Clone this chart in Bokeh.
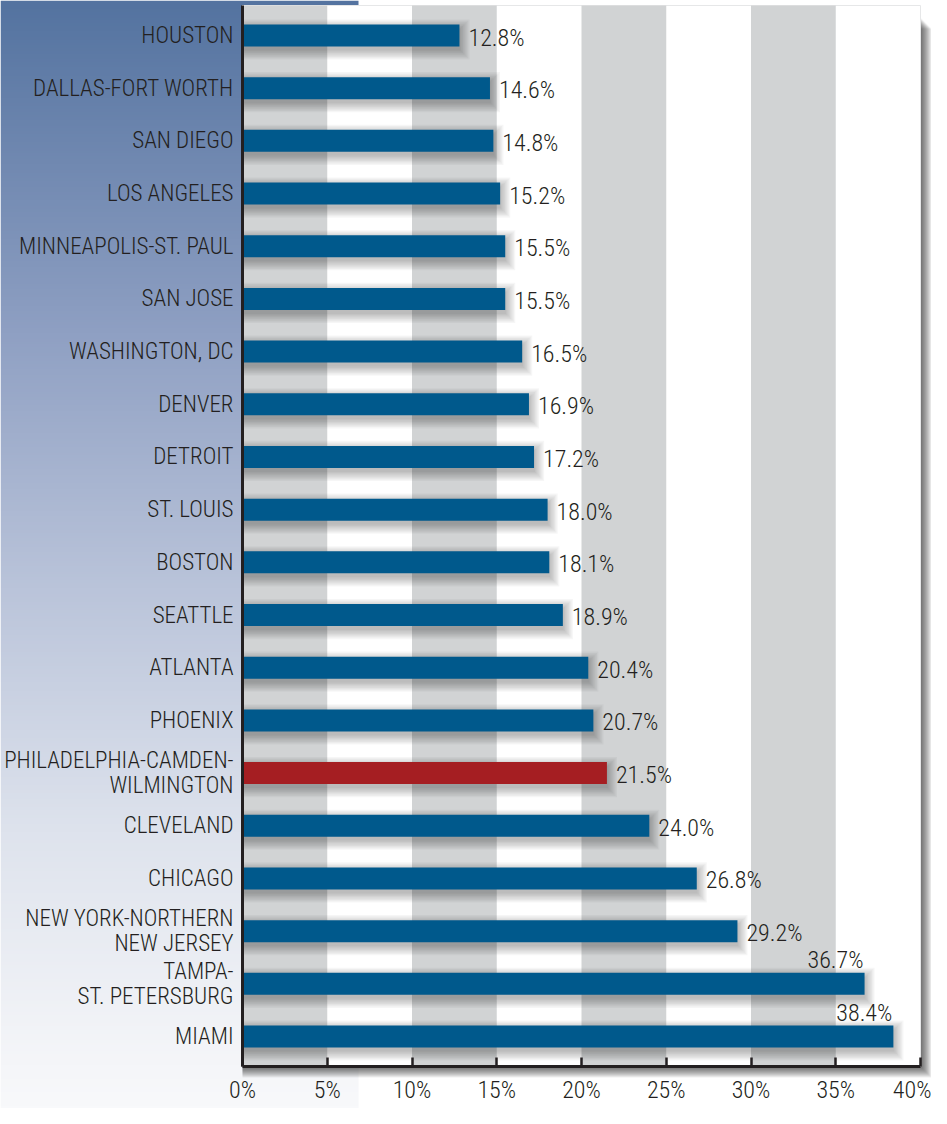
import numpy as np
from bokeh.plotting import figure
from bokeh.models import Range1d, FixedTicker, ColumnDataSource
from bokeh.core.properties import value
from bokeh.embed import file_html
from bokeh.resources import INLINE

# ---------------- data ----------------
cities = [
    "HOUSTON", "DALLAS-FORT WORTH", "SAN DIEGO", "LOS ANGELES",
    "MINNEAPOLIS-ST. PAUL", "SAN JOSE", "WASHINGTON, DC", "DENVER",
    "DETROIT", "ST. LOUIS", "BOSTON", "SEATTLE", "ATLANTA", "PHOENIX",
    "PHILADELPHIA-CAMDEN-\nWILMINGTON", "CLEVELAND", "CHICAGO",
    "NEW YORK-NORTHERN\nNEW JERSEY", "TAMPA-\nST. PETERSBURG", "MIAMI",
]
shares = [12.8, 14.6, 14.8, 15.2, 15.5, 15.5, 16.5, 16.9, 17.2, 18.0,
          18.1, 18.9, 20.4, 20.7, 21.5, 24.0, 26.8, 29.2, 36.7, 38.4]
highlight = "PHILADELPHIA-CAMDEN-\nWILMINGTON"
tick_values = [0, 5, 10, 15, 20, 25, 30, 35, 40]
tick_labels = ["0%", "5%", "10%", "15%", "20%", "25%", "30%", "35%", "40%"]

# ---------------- style / geometry (pixels) ----------------
W, H = 931, 1108
ZERO_PX = 242          # x pixel of 0 %
PX_PER_UNIT = 16.95    # pixels per percentage point
FIRST_ROW_PX = 35      # y pixel of the first bar centre
LAST_ROW_PX = 1036     # y pixel of the last bar centre
AXIS_PX = 1066         # y pixel of the x axis line
PLOT_TOP_PX = 5        # y pixel of the top of the plotting area
PANEL_RIGHT_PX = 358   # right edge of the blue panel
FONT = ("'Roboto Condensed Light', 'Roboto Condensed', 'Liberation Sans Narrow', "
        "'DejaVu Sans Condensed', sans-serif")
INK = "#231f20"
BLUE = "#00598c"
RED = "#a51e22"
BAND = "#d1d3d4"

n = len(cities)
S = (LAST_ROW_PX - FIRST_ROW_PX) / (n - 1)      # px per row
py = 1.0 / S
px = 1.0 / PX_PER_UNIT
x0 = -ZERO_PX * px
x1 = (W - ZERO_PX) * px
y_top = (n - 1) + FIRST_ROW_PX * py
y_bot = -(H - LAST_ROW_PX) * py
axis_y = -(AXIS_PX - LAST_ROW_PX) * py
plot_top = (n - 1) + (FIRST_ROW_PX - PLOT_TOP_PX) * py
panel_right = (PANEL_RIGHT_PX - ZERO_PX) * px
xmax = tick_values[-1]

pos = [n - 1 - i for i in range(n)]   # row positions, first city on top

p = figure(width=W, height=H, output_backend="svg", toolbar_location=None,
           x_range=Range1d(x0, x1), y_range=Range1d(y_bot, y_top),
           y_axis_location=None, min_border_left=0, min_border_right=0,
           min_border_top=0, min_border_bottom=0)
p.outline_line_color = None
p.grid.visible = False
p.background_fill_color = "white"
p.border_fill_color = "white"

# left gradient panel
stops_t = [0.0, 0.30, 0.53, 0.75, 0.96, 1.0]
stops_c = [(84, 115, 160), (143, 160, 195), (186, 196, 218),
           (222, 227, 237), (245, 246, 249), (248, 249, 251)]
rows = 400
ts = np.linspace(1.0, 0.0, rows)  # row 0 = bottom
img = np.zeros((rows, 1), dtype=np.uint32)
view = img.view(dtype=np.uint8).reshape((rows, 1, 4))
for ch in range(3):
    view[:, 0, ch] = np.interp(ts, stops_t, [c[ch] for c in stops_c]).astype(np.uint8)
view[:, 0, 3] = 255
p.image_rgba(image=[img], x=x0, y=y_bot, dw=panel_right - x0, dh=y_top - y_bot)

# frame drop shadow (right and bottom)
for k in range(1, 12):
    p.quad(left=0, right=xmax + k * px, bottom=axis_y - k * py,
           top=plot_top - (12 + k) * py, fill_color="black",
           fill_alpha=0.065, line_color=None)

# plotting area and alternating bands derived from ticks
p.quad(left=0, right=xmax, bottom=axis_y, top=plot_top,
       fill_color="white", line_color="#e6e7e8", line_width=1)
band_left = tick_values[0:-1:2]
band_right = tick_values[1::2]
p.quad(left=band_left, right=band_right, bottom=axis_y, top=plot_top,
       fill_color=BAND, line_color=None)

src = ColumnDataSource(dict(
    pos=pos, city=cities, share=shares,
    color=[RED if c == highlight else BLUE for c in cities],
))

# soft bar shadows
for k in range(8):
    sh = ColumnDataSource(dict(
        y=[v - 4 * py for v in pos],
        right=[s + (1 + 1.3 * k) * px for s in shares]))
    p.hbar(y="y", left=0, right="right", height=(22 + 2.6 * k) * py, source=sh,
           fill_color="black", fill_alpha=0.035, line_color=None)

p.hbar(y="pos", left=0, right="share", height=22 * py, source=src,
       fill_color="color", line_color=None)

# vertical axis line
p.segment(x0=0, y0=axis_y, x1=0, y1=plot_top, line_color=INK, line_width=3)

# category labels
p.text(x=0, y="pos", text="city", source=src, x_offset=-9,
       text_align="right", text_baseline="middle", text_font=value(FONT),
       text_font_size="23px", text_color=INK, text_line_height=0.92)

# value labels (placed above the bar when there is no room on the right)
fits = [s + 5 < xmax for s in shares]
inside = ColumnDataSource(dict(
    pos=[v for v, f in zip(pos, fits) if f],
    share=[s for s, f in zip(shares, fits) if f],
    label=[f"{s:.1f}%" for s, f in zip(shares, fits) if f]))
above = ColumnDataSource(dict(
    pos=[v for v, f in zip(pos, fits) if not f],
    share=[s for s, f in zip(shares, fits) if not f],
    label=[f"{s:.1f}%" for s, f in zip(shares, fits) if not f]))
p.text(x="share", y="pos", text="label", source=inside, x_offset=9, y_offset=2,
       text_align="left", text_baseline="middle", text_font=value(FONT),
       text_font_size="24px", text_color=INK)
p.text(x="share", y="pos", text="label", source=above, x_offset=-1, y_offset=-24,
       text_align="right", text_baseline="middle", text_font=value(FONT),
       text_font_size="24px", text_color=INK)

# x axis, drawn inside the frame at the bottom of the plotting area
ax = p.xaxis[0]
ax.fixed_location = axis_y
ax.ticker = FixedTicker(ticks=tick_values)
ax.major_label_overrides = {v: l for v, l in zip(tick_values, tick_labels)}
ax.bounds = (tick_values[0], xmax)
ax.axis_line_color = INK
ax.axis_line_width = 3
ax.major_tick_line_color = INK
ax.major_tick_line_width = 2.5
ax.major_tick_in = 9
ax.major_tick_out = 0
ax.minor_tick_in = 0
ax.minor_tick_out = 0
ax.major_label_standoff = 9
ax.major_label_text_font = FONT
ax.major_label_text_font_size = "24px"
ax.major_label_text_color = INK

open("out.html", "w").write(file_html(p, INLINE))
